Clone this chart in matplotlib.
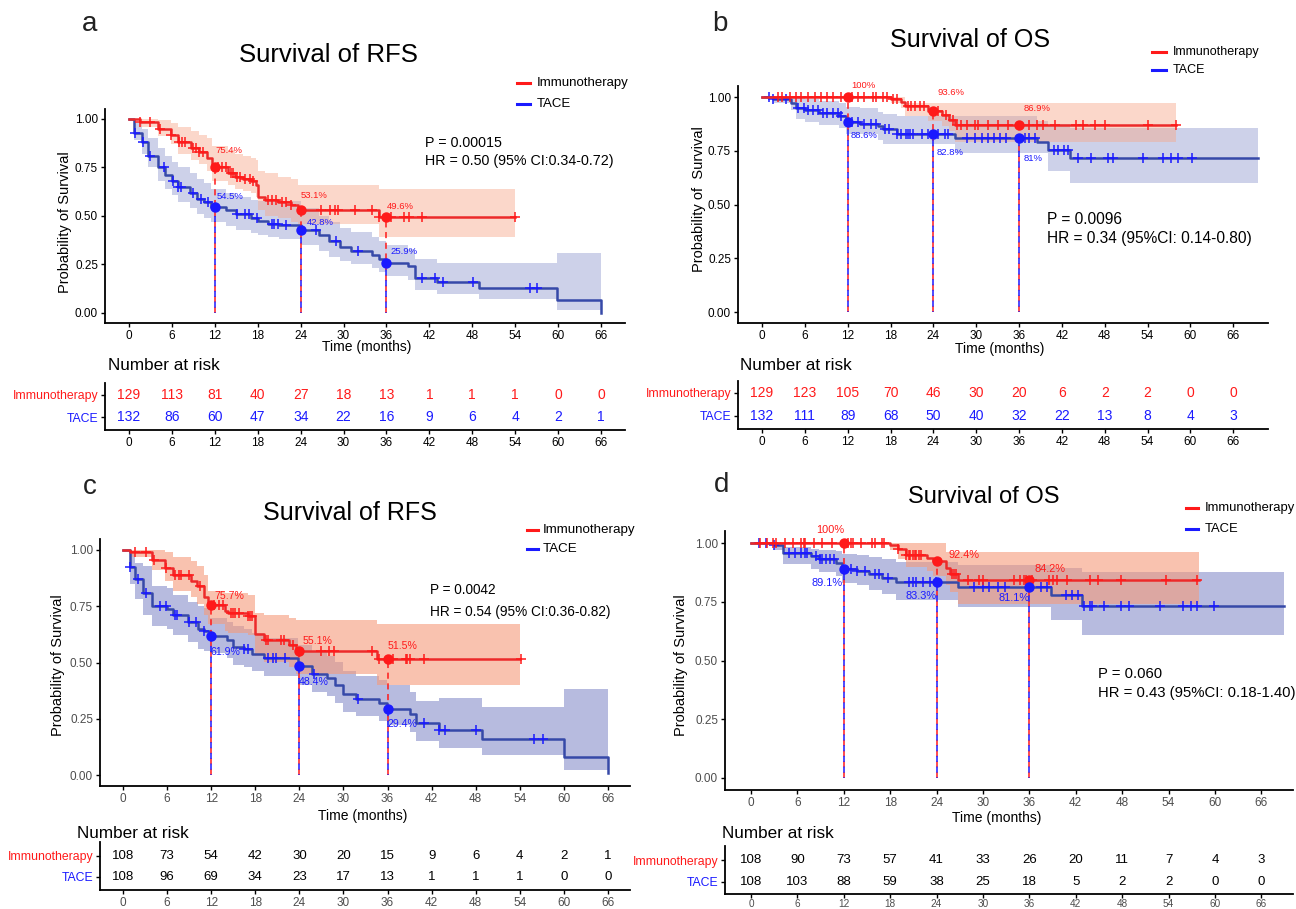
import numpy as np
import matplotlib
matplotlib.use('Agg')
import matplotlib.pyplot as plt
from matplotlib.lines import Line2D

plt.rcParams['font.family'] = ['Liberation Sans', 'DejaVu Sans']

# ------------------------------------------------------------------ data
TIME_TICKS = [0, 6, 12, 18, 24, 30, 36, 42, 48, 54, 60, 66]
LANDMARKS = [12, 24, 36]
GROUPS = ['Immunotherapy', 'TACE']

# ---- panel a : RFS
A_IMM_T = [0, 1.5, 4, 5.8, 6.8, 8.7, 9.8, 10.9, 11.6, 13.8, 14.8, 15.9, 17, 17.8, 18, 19, 20.8, 22.6, 23.6, 34.9, 54]
A_IMM_S = [1, .985, .95, .92, .88, .85, .83, .80, .754, .72, .70, .69, .68, .66, .60, .58, .57, .555, .531, .496, .496]
A_IMM_LO = [1, .96, .91, .87, .82, .79, .77, .73, .68, .66, .64, .63, .62, .60, .53, .50, .49, .47, .46, .39, .39]
A_IMM_HI = [1, 1, .995, .98, .96, .94, .92, .90, .86, .84, .82, .81, .80, .79, .73, .72, .70, .69, .66, .64, .64]
A_IMM_CENS = [1.6, 2.9, 4.3, 5.8, 7.0, 7.4, 7.8, 9.0, 9.3, 9.8, 10.4, 12.4, 13.0, 13.6, 14.2, 14.6, 15.1, 15.5,
              16.2, 16.9, 17.4, 19.4, 20.0, 20.6, 21.4, 22.0, 22.6, 26.9, 28.1, 28.8, 29.2, 31.6, 34.0, 35.0,
              36.6, 38.5, 39.1, 41.0, 54.0]
A_TACE_T = [0, 0.7, 1.8, 2.7, 4, 5, 6, 6.8, 8.5, 9.5, 10.5, 11.5, 13.5, 15, 17, 18, 19.5, 21, 24, 26.5, 28,
            29.5, 31, 34, 35, 36, 39, 40, 43, 48.9, 59.9, 66]
A_TACE_S = [1, .93, .88, .81, .75, .71, .68, .65, .62, .59, .57, .545, .53, .51, .49, .475, .46, .455, .428, .40,
            .37, .34, .32, .30, .28, .259, .24, .18, .16, .13, .065, 0]
A_TACE_LO = [1, .89, .82, .75, .68, .64, .61, .57, .54, .51, .49, .47, .45, .43, .41, .40, .39, .38, .35, .32,
             .29, .27, .25, .23, .21, .19, .17, .12, .10, .07, .015, 0]
A_TACE_HI = [1, .98, .95, .90, .85, .81, .78, .75, .72, .69, .67, .64, .62, .60, .58, .575, .575, .575, .54, .50,
             .47, .44, .42, .39, .37, .35, .33, .28, .26, .26, .31, .31]
A_TACE_CENS = [0.9, 2.0, 2.9, 4.9, 6.1, 6.9, 7.2, 9.0, 10.1, 11.0, 15.1, 16.2, 16.8, 17.9, 20.0, 20.3, 20.8,
               22.0, 26.1, 29.0, 32.0, 41.0, 42.8, 43.9, 48.1, 56.1, 57.0]
A_IMM_MARK = [75.4, 53.1, 49.6]
A_TACE_MARK = [54.5, 42.8, 25.9]
A_RISK_IMM = [129, 113, 81, 40, 27, 18, 13, 1, 1, 1, 0, 0]
A_RISK_TACE = [132, 86, 60, 47, 34, 22, 16, 9, 6, 4, 2, 1]
A_STATS = ['P = 0.00015', 'HR = 0.50 (95% CI:0.34-0.72)']

# ---- panel b : OS
B_IMM_T = [0, 18, 19.5, 20, 23.2, 25.2, 26.2, 27, 58]
B_IMM_S = [1, .99, .978, .957, .936, .915, .895, .869, .869]
B_IMM_LO = [1, .97, .95, .91, .89, .865, .84, .79, .79]
B_IMM_HI = [1, 1, 1, .972, .972, .972, .972, .972, .972]
B_IMM_CENS = [2.2, 2.8, 3.9, 4.8, 5.5, 6.5, 7.4, 8.2, 9.1, 10, 11.1, 12.6, 13.4, 14.3, 15.5, 15.9, 16.9, 17.5,
              18.4, 18.9, 20.4, 20.9, 21.5, 22.1, 22.7, 24.7, 25.8, 26.7, 27.3, 27.9, 28.7, 29.9, 30.2, 31.6,
              33.1, 34.5, 37.4, 38.5, 39.4, 41.1, 44, 44.9, 46.6, 48.1, 54.1, 58.0]
B_TACE_T = [0, 1.5, 4, 4.8, 6, 8, 10.8, 11.8, 13.7, 16.3, 17, 18.9, 27, 38.5, 40, 43.2, 69.5]
B_TACE_S = [1, .99, .97, .95, .94, .925, .91, .886, .875, .863, .85, .828, .81, .79, .755, .715, .715]
B_TACE_LO = [1, .97, .94, .90, .885, .87, .855, .83, .83, .80, .78, .78, .74, .74, .655, .60, .60]
B_TACE_HI = [1, 1, 1, .995, .99, .98, .97, .955, .95, .93, .92, .91, .91, .89, .875, .858, .858]
B_TACE_CENS = [1.0, 1.6, 3.3, 5.0, 5.9, 6.5, 7.1, 7.9, 8.5, 9.1, 10, 10.6, 11.1, 12.6, 13.4, 14.3, 15.2, 16.0,
               17.2, 17.8, 18.9, 19.5, 20.1, 20.4, 20.7, 21.2, 22.4, 23.3, 24.7, 25.6, 26.1, 28.7, 29.9, 30.8,
               31.6, 32.5, 33.4, 34.2, 36.8, 37.4, 38.3, 40.9, 41.4, 42.3, 42.9, 44.3, 46.1, 48.4, 49.2, 53.3,
               56.1, 57.3, 58.2, 60.2]
B_IMM_MARK = [100, 93.6, 86.9]
B_TACE_MARK = [88.6, 82.8, 81]
B_RISK_IMM = [129, 123, 105, 70, 46, 30, 20, 6, 2, 2, 0, 0]
B_RISK_TACE = [132, 111, 89, 68, 50, 40, 32, 22, 13, 8, 4, 3]
B_STATS = ['P = 0.0096', 'HR = 0.34 (95%CI: 0.14-0.80)']

# ---- panel c : RFS
C_IMM_T = [0, 1, 4, 5.7, 6.8, 9.2, 10.1, 11, 11.6, 13.9, 14.3, 17, 18, 19.2, 22.6, 23.6, 34.6, 54]
C_IMM_S = [1, .99, .955, .92, .887, .862, .84, .79, .757, .73, .72, .705, .625, .60, .58, .551, .515, .515]
C_IMM_LO = [1, .97, .91, .86, .82, .79, .76, .71, .67, .64, .63, .62, .53, .50, .48, .45, .40, .40]
C_IMM_HI = [1, 1, 1, .99, .97, .95, .93, .89, .82, .81, .81, .80, .72, .71, .70, .69, .67, .67]
C_IMM_CENS = [1.7, 3.1, 4.2, 5.9, 7.1, 7.6, 7.9, 9.0, 10.5, 12.4, 13.0, 13.6, 14.7, 15.0, 15.3, 15.8, 17.0,
              17.3, 17.5, 19.5, 19.8, 21.5, 21.9, 23.1, 26.9, 28.0, 28.7, 33.9, 34.8, 36.8, 38.5, 38.7, 39.0,
              41.0, 54.2]
C_TACE_T = [0, 1, 1.7, 2.7, 4, 6, 6.8, 8.8, 10.2, 11, 11.9, 14.1, 15, 16.4, 17.5, 19.2, 23.8, 25.7, 27.7,
            28.8, 30, 31.7, 34.8, 35.9, 39, 39.9, 43, 48.9, 60, 66]
C_TACE_S = [1, .926, .873, .81, .75, .74, .71, .68, .65, .64, .619, .60, .57, .56, .54, .52, .484, .45, .43,
            .40, .36, .34, .32, .294, .27, .23, .20, .16, .08, .01]
C_TACE_LO = [1, .85, .78, .71, .66, .65, .62, .59, .56, .55, .54, .52, .49, .48, .46, .44, .40, .37, .35, .32,
             .28, .26, .24, .22, .19, .15, .12, .09, .02, 0]
C_TACE_HI = [1, .98, .94, .93, .84, .83, .80, .77, .75, .74, .70, .68, .66, .65, .63, .61, .58, .55, .53, .50,
             .46, .44, .42, .40, .37, .33, .34, .30, .38, .38]
C_TACE_CENS = [1.0, 2.0, 3.1, 5.1, 5.9, 7.1, 7.4, 9.0, 9.9, 11.0, 16.4, 17.0, 19.8, 20.4, 20.8, 22.1, 26.0,
               32.0, 41.0, 43.0, 43.8, 48.1, 56.0, 57.1]
C_IMM_MARK = [75.7, 55.1, 51.5]
C_TACE_MARK = [61.9, 48.4, 29.4]
C_RISK_IMM = [108, 73, 54, 42, 30, 20, 15, 9, 6, 4, 2, 1]
C_RISK_TACE = [108, 96, 69, 34, 23, 17, 13, 1, 1, 1, 0, 0]
C_STATS = ['P = 0.0042', 'HR = 0.54 (95% CI:0.36-0.82)']

# ---- panel d : OS
D_IMM_T = [0, 18, 19, 20, 22.8, 23.5, 25.2, 25.8, 26.8, 58]
D_IMM_S = [1, .99, .975, .95, .937, .924, .895, .87, .842, .842]
D_IMM_LO = [1, .97, .93, .90, .88, .86, .82, .79, .74, .74]
D_IMM_HI = [1, 1, 1, 1, 1, 1, .96, .96, .96, .96]
D_IMM_CENS = [1.2, 2.1, 2.8, 3.3, 4.4, 5.4, 6.5, 6.8, 7.0, 8.1, 9.2, 10.5, 12.6, 12.9, 13.2, 14.2, 15.6, 16.1,
              16.9, 17.2, 19.0, 20.1, 20.4, 20.6, 20.9, 21.2, 21.4, 21.7, 22.0, 26.0, 26.3, 26.5, 28.1, 29.5,
              30.0, 34.0, 34.8, 35.3, 35.6, 36.4, 38.5, 39.1, 39.6, 40.9, 43.9, 44.9, 47.9, 53.7, 57.7]
D_TACE_T = [0, 3, 4.1, 7.8, 8.8, 11, 11.8, 13.7, 15.3, 16.9, 18.8, 26.8, 38.8, 42.8, 69]
D_TACE_S = [1, .99, .958, .944, .932, .915, .891, .88, .866, .852, .833, .811, .777, .732, .732]
D_TACE_LO = [1, .97, .91, .89, .875, .86, .83, .82, .80, .785, .758, .729, .672, .609, .609]
D_TACE_HI = [1, 1, .985, .975, .97, .965, .955, .95, .94, .93, .92, .905, .895, .878, .878]
D_TACE_CENS = [1.0, 2.0, 3.0, 4.9, 5.7, 6.5, 7.0, 7.3, 8.4, 8.9, 9.2, 9.7, 10.2, 10.8, 12.9, 13.7, 14.8, 16.1,
               16.6, 17.7, 20.4, 20.9, 21.4, 22.3, 23.1, 23.9, 28.9, 30.0, 30.8, 31.9, 32.9, 37.5, 38.3, 40.7,
               41.5, 42.3, 43.1, 43.9, 44.1, 45.7, 47.9, 48.9, 52.9, 55.9, 56.9, 57.7, 59.9]
D_IMM_MARK = [100, 92.4, 84.2]
D_TACE_MARK = [89.1, 83.3, 81.1]
D_RISK_IMM = [108, 90, 73, 57, 41, 33, 26, 20, 11, 7, 4, 3]
D_RISK_TACE = [108, 103, 88, 59, 38, 25, 18, 5, 2, 2, 0, 0]
D_STATS = ['P = 0.060', 'HR = 0.43 (95%CI: 0.18-1.40)']

TITLES = ['Survival of RFS', 'Survival of OS', 'Survival of RFS', 'Survival of OS']
LETTERS = ['a', 'b', 'c', 'd']

# ------------------------------------------------------------------ figure
W, H = 1296, 909
fig = plt.figure(figsize=(W / 100, H / 100), dpi=100)


def fx(px):
    return px / W


def fy(py):
    return 1 - py / H


def add_ax(l, r, t, b):
    return fig.add_axes([l / W, 1 - b / H, (r - l) / W, (b - t) / H])


def surv_at(T, S, x):
    idx = np.searchsorted(np.asarray(T), np.asarray(x), side='right') - 1
    return np.asarray(S)[idx]


def style_axis(ax, tick_color, size=8.5, pad=2):
    for s in ['top', 'right']:
        ax.spines[s].set_visible(False)
    for s in ['left', 'bottom']:
        ax.spines[s].set_linewidth(1.3)
        ax.spines[s].set_color('black')
    ax.tick_params(axis='both', length=3, width=1, color='black', labelcolor=tick_color,
                   labelsize=size, pad=pad)


RED_LINE = '#EC2A2A'
BLUE_LINE = '#3649A8'
RED_MARK = '#FF1A1A'
BLUE_MARK = '#1A1AFF'

panels = [
    dict(imm=(A_IMM_T, A_IMM_S, A_IMM_LO, A_IMM_HI, A_IMM_CENS), tace=(A_TACE_T, A_TACE_S, A_TACE_LO, A_TACE_HI, A_TACE_CENS),
         mark=(A_IMM_MARK, A_TACE_MARK), risk=(A_RISK_IMM, A_RISK_TACE), stats=A_STATS,
         main=(105, 625, 109.3, 322.7), xlim=(-3.36, 69.35), table=(105, 625, 383, 430), tylim=(1.59, -0.545),
         band=('#F7A88A', 0.45, '#8A92CC', 0.42), tick_color='black', risk_colored=True,
         lbl=[(12.1, .84, 'left'), (24.0, .605, 'left'), (36.0, .55, 'left'),
              (12.3, .60, 'left'), (24.8, .465, 'left'), (36.5, .317, 'left')], lblsize=6.8,
         title=(328, 55, 18.5), letter=(90, 24), ylab=(65, 222, 'Probability of Survival', 10.5),
         xlab=(367, 347), legend=(517, 530, 537, 83, 104, 9.5), stat_pos=(425, 143, 161, 10.3),
         nar=(108, 365), rowfs=8.8, numfs=10, tsize=8.5, tpad=2),
    dict(imm=(B_IMM_T, B_IMM_S, B_IMM_LO, B_IMM_HI, B_IMM_CENS), tace=(B_TACE_T, B_TACE_S, B_TACE_LO, B_TACE_HI, B_TACE_CENS),
         mark=(B_IMM_MARK, B_TACE_MARK), risk=(B_RISK_IMM, B_RISK_TACE), stats=B_STATS,
         main=(738, 1268, 86.25, 322.75), xlim=(-3.36, 70.87), table=(738, 1268, 381, 429), tylim=(1.565, -0.52),
         band=('#F7A88A', 0.45, '#8A92CC', 0.42), tick_color='black', risk_colored=True,
         lbl=[(12.5, 1.054, 'left'), (24.6, 1.02, 'left'), (36.7, .946, 'left'),
              (12.4, .82, 'left'), (24.5, .743, 'left'), (36.6, .712, 'left')], lblsize=6.8,
         title=(970, 40, 18), letter=(720, 24), ylab=(699, 199, 'Probability of  Survival', 10.5),
         xlab=(1000, 349), legend=(1152, 1166, 1173, 52, 70, 9), stat_pos=(1047, 220, 239, 11.2),
         nar=(740, 365), rowfs=8.8, numfs=10, tsize=8.5, tpad=2),
    dict(imm=(C_IMM_T, C_IMM_S, C_IMM_LO, C_IMM_HI, C_IMM_CENS), tace=(C_TACE_T, C_TACE_S, C_TACE_LO, C_TACE_HI, C_TACE_CENS),
         mark=(C_IMM_MARK, C_TACE_MARK), risk=(C_RISK_IMM, C_RISK_TACE), stats=C_STATS,
         main=(100, 630, 538.75, 786.25), xlim=(-3.13, 69.0), table=(100, 630, 842, 890), tylim=(1.62, -0.667),
         band=('#F59A7A', 0.6, '#7C84C6', 0.55), tick_color='#4D4D4D', risk_colored=False,
         lbl=[(12.4, .796, 'left'), (24.5, .595, 'left'), (36.0, .573, 'left'),
              (11.9, .547, 'left'), (23.9, .413, 'left'), (36.0, .225, 'left')], lblsize=7.6,
         title=(350, 513, 18), letter=(90, 487), ylab=(58, 665, 'Probability of Survival', 10.5),
         xlab=(363, 816), legend=(527, 538, 543, 530, 549, 9.6), stat_pos=(430, 590, 612, 9.8),
         nar=(77, 833), rowfs=8.8, numfs=9.5, tsize=8.5, tpad=2),
    dict(imm=(D_IMM_T, D_IMM_S, D_IMM_LO, D_IMM_HI, D_IMM_CENS), tace=(D_TACE_T, D_TACE_S, D_TACE_LO, D_TACE_HI, D_TACE_CENS),
         mark=(D_IMM_MARK, D_TACE_MARK), risk=(D_RISK_IMM, D_RISK_TACE), stats=D_STATS,
         main=(725, 1293, 531.25, 789.75), xlim=(-3.36, 70.1), table=(725, 1293, 846, 894), tylim=(1.59, -0.68),
         band=('#F59A7A', 0.6, '#7C84C6', 0.55), tick_color='#4D4D4D', risk_colored=False,
         lbl=[(12.1, 1.056, 'right'), (25.5, .948, 'left'), (36.7, .89, 'left'),
              (11.8, .83, 'right'), (24.0, .774, 'right'), (36.0, .767, 'right')], lblsize=7.9,
         title=(984, 497, 17), letter=(722, 485), ylab=(681, 665, 'Probability of Survival', 10.5),
         xlab=(997, 818), legend=(1186, 1198, 1205, 508, 529, 9.4), stat_pos=(1098, 674, 693, 10.7),
         nar=(722, 833), rowfs=8.8, numfs=9.5, tsize=7.2, tpad=0.5),
]

for pi, P in enumerate(panels):
    ax = add_ax(*P['main'])
    ax.set_xlim(*P['xlim'])
    ax.set_ylim(-0.05, 1.05)
    style_axis(ax, P['tick_color'])
    ax.set_xticks(TIME_TICKS)
    ax.set_yticks([0, 0.25, 0.5, 0.75, 1.0])
    ax.set_yticklabels(['0.00', '0.25', '0.50', '0.75', '1.00'])

    rb, ra, bb, ba = P['band']
    for (T, S, LO, HI, CENS), bc, al in [(P['tace'], bb, ba), (P['imm'], rb, ra)]:
        ax.fill_between(T, LO, HI, step='post', color=bc, alpha=al, lw=0, zorder=1)
    for (T, S, LO, HI, CENS), lc, mc, z in [
            (P['tace'], BLUE_LINE, BLUE_MARK, 3),
            (P['imm'], RED_LINE, RED_MARK, 4)]:
        ax.step(T, S, where='post', color=lc, lw=1.8, zorder=z)
        ax.plot(CENS, surv_at(T, S, CENS), ls='none', marker='+', ms=7.5, mew=1.1, color=mc, zorder=z)

    imm_mark, tace_mark = P['mark']
    imm_v = np.array(imm_mark) / 100
    tace_v = np.array(tace_mark) / 100
    ax.vlines(LANDMARKS, 0, imm_v, colors=RED_MARK, linestyles=(0, (4, 3)), lw=1.1, zorder=5)
    ax.vlines(LANDMARKS, 0, tace_v, colors=BLUE_MARK, linestyles=(3.5, (4, 3)), lw=1.1, zorder=5)
    ax.plot(LANDMARKS, imm_v, 'o', color=RED_MARK, ms=6.5, zorder=6)
    ax.plot(LANDMARKS, tace_v, 'o', color=BLUE_MARK, ms=6.5, zorder=6)
    vals = list(imm_mark) + list(tace_mark)
    for k, (lx, ly, ha) in enumerate(P['lbl']):
        ax.text(lx, ly, f'{vals[k]:g}%', ha=ha, va='center', fontsize=P['lblsize'],
                color=RED_MARK if k < 3 else BLUE_MARK, zorder=7)

    # titles and texts
    tx, ty, tfs = P['title']
    fig.text(fx(tx), fy(ty), TITLES[pi], ha='center', va='center', fontsize=tfs)
    lx, ly = P['letter']
    fig.text(fx(lx), fy(ly), LETTERS[pi], ha='center', va='center', fontsize=20, color='#222222')
    yx, yy, ys, yfs = P['ylab']
    fig.text(fx(yx), fy(yy), ys, rotation=90, ha='center', va='center', fontsize=yfs)
    xx, xy = P['xlab']
    fig.text(fx(xx), fy(xy), 'Time (months)', ha='center', va='center', fontsize=10)
    l1, l2, ltx, ly1, ly2, lfs = P['legend']
    for yy_, col, name in [(ly1, RED_MARK, GROUPS[0]), (ly2, BLUE_MARK, GROUPS[1])]:
        fig.add_artist(Line2D([fx(l1), fx(l2)], [fy(yy_), fy(yy_)], color=col, lw=2.2,
                              transform=fig.transFigure))
        fig.text(fx(ltx), fy(yy_), name, ha='left', va='center', fontsize=lfs)
    sx, sy1, sy2, sfs = P['stat_pos']
    fig.text(fx(sx), fy(sy1), P['stats'][0], ha='left', va='center', fontsize=sfs)
    fig.text(fx(sx), fy(sy2), P['stats'][1], ha='left', va='center', fontsize=sfs)
    nx, ny = P['nar']
    fig.text(fx(nx), fy(ny), 'Number at risk', ha='left', va='center', fontsize=12.3)

    # risk table
    tax = add_ax(*P['table'])
    tax.set_xlim(*P['xlim'])
    tax.set_ylim(*P['tylim'])
    style_axis(tax, P['tick_color'])
    tax.tick_params(axis='x', labelsize=P['tsize'], pad=P['tpad'])
    tax.set_xticks(TIME_TICKS)
    tax.set_yticks([0, 1])
    tax.set_yticklabels(GROUPS, fontsize=P['rowfs'])
    for lab, col in zip(tax.get_yticklabels(), [RED_MARK, BLUE_MARK]):
        lab.set_color(col)
    risk_imm, risk_tace = P['risk']
    for row, (nums, col) in enumerate([(risk_imm, RED_MARK), (risk_tace, BLUE_MARK)]):
        for x, n in zip(TIME_TICKS, nums):
            tax.text(x, row, str(n), ha='center', va='center', fontsize=P['numfs'],
                     color=col if P['risk_colored'] else 'black')

fig.savefig('out.png', dpi=100)
